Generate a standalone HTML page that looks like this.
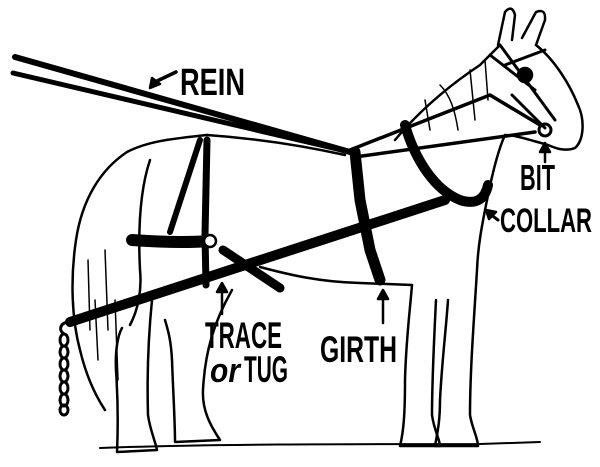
<!DOCTYPE html>
<html><head><meta charset="utf-8"><style>
html,body{margin:0;padding:0;background:#fff;}
svg{display:block}
text{font-family:"Liberation Sans",sans-serif;font-weight:bold;fill:#000}
</style></head><body>
<svg width="600" height="467" viewBox="0 0 600 467" xmlns="http://www.w3.org/2000/svg">
<g fill="none" stroke="#000" stroke-width="2.5" stroke-linejoin="round" stroke-linecap="round">
<!-- tail outer -->
<path d="M207 135 C180 138 150 140 127 152 C100 170 82 200 76 240 C70 280 72 320 80 350 C86 375 95 395 105 410"/>
<path d="M95 300 L98 360 M105 250 L108 330 M88 260 L90 330 M115 300 L118 380" stroke-width="1.5"/>
<!-- hind quarter inner -->
<path d="M150 160 C140 190 138 230 140 270 C142 290 138 310 130 325"/>
<!-- back -->
<path d="M207 135 C250 138 300 145 345 155"/>
<!-- neck -->
<path d="M395 140 C420 110 450 85 480 65 C490 55 495 50 500 45"/>
<!-- ears -->
<path d="M498 45 L505 12 Q512 4 515 15 L512 40"/>
<path d="M522 38 L536 12 Q546 8 545 20 L536 45"/>
<!-- head -->
<path d="M536 45 C555 60 570 85 578 105 C585 120 584 140 575 148 C565 152 555 148 548 145 C530 140 515 135 505 135 C498 150 492 175 487 200"/>
<path d="M440 85 C450 95 455 110 458 130 M470 70 L475 120 M425 100 L430 130 M485 60 L488 100" stroke-width="1.5"/>
<!-- front legs -->
<path d="M487 200 C482 225 478 245 477 270 C474 320 470 370 470 415 C472 428 478 438 478 446 L435 446 C438 430 440 420 440 400 C442 360 446 330 448 300"/>
<path d="M436 300 C434 340 432 380 432 415 C434 430 440 440 440 446 L400 446 C404 430 405 410 405 380 C406 340 410 310 412 285"/>
<!-- belly -->
<path d="M260 267 C290 275 320 282 360 283 L412 285"/>
<!-- hind legs -->
<path d="M232 290 C215 320 205 350 203 390 C202 410 210 425 220 440 L175 442 C175 420 173 390 172 360 C171 340 168 330 165 320"/>
<path d="M152 300 C148 340 147 380 148 415 C150 430 155 440 157 450 L117 452 C118 430 118 400 116 370 C115 350 118 335 122 328"/>
<!-- ground -->
<path d="M100 448 C200 444 350 444 480 444 L540 442" stroke-width="2"/>
<!-- collar -->
<path d="M405 125 C415 160 435 190 460 200 C475 205 485 200 488 185" stroke-width="10"/>
<!-- bridle -->
<path d="M500 45 L555 120 M505 65 L545 50 M512 95 L545 128 M490 55 L535 90" stroke-width="3"/>
<circle cx="545" cy="130" r="6" stroke-width="3"/>
<circle cx="525" cy="75" r="7" fill="#000"/>
<!-- girth -->
<path d="M355 152 L360 200 L370 250 L380 280" stroke-width="11"/>
<!-- back band straps -->
<path d="M200 140 L170 232" stroke-width="6"/>
<path d="M207 140 L205 235 L206 285" stroke-width="7"/>
<!-- breeching -->
<path d="M132 240 C160 242 185 243 210 241" stroke-width="12"/>
<circle cx="210" cy="241" r="6" fill="#fff" stroke-width="2.5"/>
<!-- hip strap -->
<path d="M223 250 L280 288" stroke-width="9"/>
<!-- trace -->
<path d="M70 322 L445 200" stroke-width="10"/>
<!-- chain -->
<g stroke-width="3">
<ellipse cx="64" cy="340" rx="4" ry="6"/>
<ellipse cx="64" cy="352" rx="4" ry="6"/>
<ellipse cx="64" cy="364" rx="4" ry="6"/>
<ellipse cx="64" cy="376" rx="4" ry="6"/>
<ellipse cx="64" cy="388" rx="4" ry="6"/>
<ellipse cx="64" cy="400" rx="4" ry="6"/>
<ellipse cx="64" cy="410" rx="4" ry="5"/>
</g>
<path d="M70 322 C60 322 58 330 64 334" stroke-width="3"/>
<!-- reins -->
<path d="M15 57 L350 152" stroke-width="6"/>
<path d="M13 73 L350 152" stroke-width="5"/>
<path d="M350 150 L490 95 L540 125" stroke-width="3.5"/>
<path d="M355 157 L535 132" stroke-width="3.5"/>
<!-- label arrows -->
<path d="M176 72 L155 82" stroke-width="3.5"/><path d="M150 88 L152 78 L160 84 Z" fill="#000"/>
<path d="M545 162 L545 150" stroke-width="2.5"/><path d="M540 152 L545 143 L550 152 Z" fill="#000"/>
<path d="M498 220 L490 214" stroke-width="3"/><path d="M486 210 L496 212 L489 219 Z" fill="#000"/>
<path d="M222 314 L222 290" stroke-width="2.5"/><path d="M217 292 L222 283 L227 292 Z" fill="#000"/>
<path d="M383 323 L383 297" stroke-width="2.5"/><path d="M378 299 L383 290 L388 299 Z" fill="#000"/>
</g>
<text x="180" y="95" font-size="38" textLength="65" lengthAdjust="spacingAndGlyphs">REIN</text>
<text x="520" y="190" font-size="36" textLength="35" lengthAdjust="spacingAndGlyphs">BIT</text>
<text x="500" y="232" font-size="34" textLength="92" lengthAdjust="spacingAndGlyphs">COLLAR</text>
<text x="205" y="348" font-size="37" textLength="77" lengthAdjust="spacingAndGlyphs">TRACE</text>
<text x="210" y="382" font-size="34" font-style="italic" textLength="30" lengthAdjust="spacingAndGlyphs">or</text>
<text x="244" y="382" font-size="37" textLength="44" lengthAdjust="spacingAndGlyphs">TUG</text>
<text x="320" y="362" font-size="37" textLength="77" lengthAdjust="spacingAndGlyphs">GIRTH</text>
</svg>
</body></html>
